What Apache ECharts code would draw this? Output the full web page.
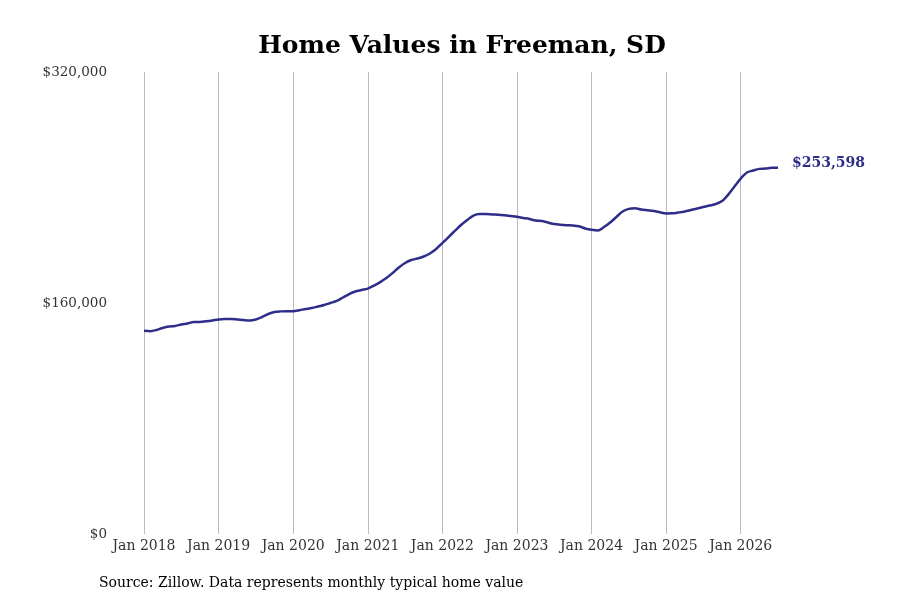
<!DOCTYPE html>
<html>
<head>
<meta charset="utf-8">
<script src="https://cdn.jsdelivr.net/npm/echarts@6/dist/echarts.min.js"></script>
<style>
  html, body { margin: 0; padding: 0; background: #fff; }
  #main { width: 900px; height: 600px; }
</style>
</head>
<body>
<div id="main"></div>
<script>
'use strict';

// monthly typical home value, Jan 2018 onwards
var years = [2018, 2019, 2020, 2021, 2022, 2023, 2024, 2025, 2026];
var monthNames = ['Jan','Feb','Mar','Apr','May','Jun','Jul','Aug','Sep','Oct','Nov','Dec'];
var homeValues = [
    140800, 140500, 141300, 142700, 143700, 144100, 145100, 145800, 146800, 146800, 147300, 147900,
    148600, 148900, 148900, 148600, 148200, 147900, 148600, 150300, 152400, 153800, 154200, 154300,
    154300, 155000, 155800, 156500, 157600, 158600, 160000, 161400, 163800, 166200, 168000, 169000,
    170000, 172100, 174500, 177300, 180800, 184600, 187700, 189800, 190800, 192200, 194300, 197400,
    201500, 205700, 209900, 214000, 217500, 220600, 221600, 221600, 221300, 221100, 220700, 220200,
    219700, 218900, 218200, 217100, 216800, 215700, 214700, 214200, 213900, 213700, 213100, 211600,
    210700, 210200, 212600, 215700, 219600, 223400, 225200, 225600, 224700, 224200, 223700, 222800,
    222000, 222100, 222700, 223400, 224400, 225400, 226500, 227500, 228600, 230600, 235100, 240700,
    246200, 250400, 251800, 252900, 253100, 253700, 253598
];
var yTicks = [0, 160000, 320000];

// build category labels "Jan 2018", "Feb 2018", ...
var months = [];
for (var i = 0; i < homeValues.length; i++) {
    months.push(monthNames[i % 12] + ' ' + (years[0] + Math.floor(i / 12)));
}

function money(v) {
    return '$' + Math.round(v).toString().replace(/\B(?=(\d{3})+(?!\d))/g, ',');
}

var chart = echarts.init(document.getElementById('main'));

var option = {
    backgroundColor: '#fff',
    animation: false,
    textStyle: {fontFamily: 'DejaVu Serif'},
    title: {
        text: 'Home Values in Freeman, SD',
        left: 457,
        top: 29,
        textAlign: 'center',
        textStyle: {fontFamily: 'DejaVu Serif', fontSize: 25, fontWeight: 'bold', color: '#000'}
    },
    grid: {left: 144, right: 122, top: 72, bottom: 66, containLabel: false},
    xAxis: {
        type: 'category',
        data: months,
        boundaryGap: false,
        axisLine: {show: false},
        axisTick: {show: false},
        axisLabel: {
            interval: 11,
            margin: 5,
            color: '#333',
            fontSize: 14,
            fontFamily: 'DejaVu Serif'
        },
        splitLine: {show: true, interval: 11, lineStyle: {color: '#bbb', width: 1}}
    },
    yAxis: {
        type: 'value',
        min: yTicks[0],
        max: yTicks[yTicks.length - 1],
        interval: yTicks[1] - yTicks[0],
        axisLine: {show: false},
        axisTick: {show: false},
        splitLine: {show: false},
        axisLabel: {
            margin: 37,
            color: '#333',
            fontSize: 13.5,
            fontFamily: 'DejaVu Serif',
            padding: [4, 0, 0, 0],
            formatter: money
        }
    },
    series: [{
        type: 'line',
        data: homeValues,
        smooth: 0.3,
        symbol: 'none',
        lineStyle: {color: '#2e2e8a', width: 2.5},
        endLabel: {
            show: true,
            formatter: function(p) { return money(p.value); },
            color: '#2e2e8a',
            fontSize: 14,
            fontWeight: 'bold',
            fontFamily: 'DejaVu Serif',
            distance: 14,
            offset: [0, -5]
        }
    }],
    graphic: [{
        type: 'text',
        left: 99,
        top: 576,
        style: {
            text: 'Source: Zillow. Data represents monthly typical home value',
            font: '14px "DejaVu Serif"',
            fill: '#000'
        }
    }]
};

chart.setOption(option);
</script>
</body>
</html>
